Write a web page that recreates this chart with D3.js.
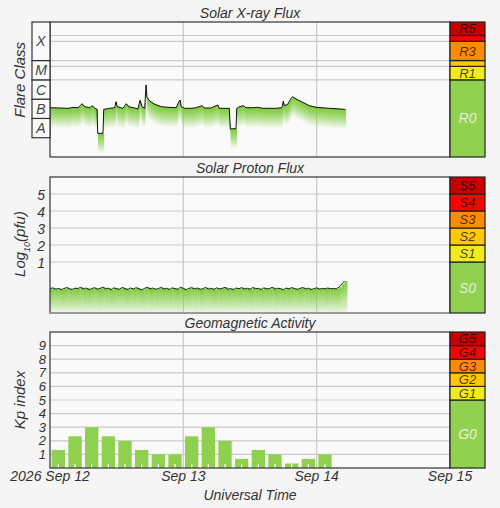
<!DOCTYPE html>
<html><head><meta charset="utf-8">
<script src="https://cdn.jsdelivr.net/npm/d3@7"></script>
<style>
html,body{margin:0;padding:0;background:#f5f5f5;}
svg{display:block;font-family:"Liberation Sans",Arial,sans-serif;font-style:italic;}
</style></head><body>
<svg id="c" width="500" height="508"></svg>
<script>
// ---------- DATA ----------
const startDate = "2026-09-12";
const tickLabels = ["2026 Sep 12", "Sep 13", "Sep 14", "Sep 15"];
const titles = ["Solar X-ray Flux", "Solar Proton Flux", "Geomagnetic Activity"];
const xAxisTitle = "Universal Time";

// X-ray flux (W/m^2) vs hours since start
const xrayHours = [0,1.44,3.24,4.14,5.04,5.45,5.76,6.25,7.15,7.61,8.05,8.46,8.59,9.54,9.67,10.75,11.65,11.88,12.11,13.14,13.73,14.17,15.25,15.84,16.2,16.56,17.05,17.28,17.46,17.95,18.85,20.03,21.24,22.73,23.04,23.4,23.63,24.25,25.43,26.28,27.36,27.77,28.98,30.19,30.47,32.27,32.45,33.48,33.61,33.97,34.79,35.28,36.49,37.39,38.29,40.68,41.76,41.99,42.17,42.79,43.38,43.69,44.28,45.49,46.67,47.88,50.27,51.48,52.97,53.15];
const xrayFlux = [3.6e-7,3.5e-7,3.35e-7,3.7e-7,3.6e-7,4.57e-7,5.81e-7,4.06e-7,3.6e-7,4.57e-7,3.35e-7,2.97e-7,1.69e-8,1.69e-8,2.97e-7,3.35e-7,3.6e-7,7.36e-7,4.06e-7,3.35e-7,5.81e-7,4.06e-7,3.47e-7,3.08e-7,8.7e-7,4.06e-7,3.35e-7,5.4e-6,1.25e-6,7.97e-7,5.4e-7,4.06e-7,3.78e-7,3.6e-7,6.08e-7,9.0e-7,4.06e-7,3.35e-7,3.35e-7,3.6e-7,4.57e-7,3.47e-7,3.47e-7,4.97e-7,3.35e-7,3.35e-7,2.83e-8,2.98e-8,3.35e-7,3.92e-7,4.57e-7,3.6e-7,3.6e-7,3.78e-7,3.35e-7,3.35e-7,3.6e-7,7.97e-7,4.57e-7,5.4e-7,1.1e-6,1.34e-6,1.02e-6,6.86e-7,4.57e-7,3.78e-7,3.35e-7,3.19e-7,2.97e-7,2.97e-7];

// Proton flux log10(pfu), one value every 0.5 h
const protonStepHours = 0.5;
const protonLog = [
-0.57,-0.52,-0.60,-0.55,-0.63,-0.56,-0.50,-0.58,-0.61,-0.54,
-0.56,-0.49,-0.59,-0.53,-0.62,-0.57,-0.51,-0.60,-0.55,-0.48,
-0.58,-0.54,-0.63,-0.52,-0.57,-0.60,-0.50,-0.56,-0.62,-0.53,
-0.59,-0.51,-0.57,-0.64,-0.55,-0.49,-0.58,-0.53,-0.61,-0.56,
-0.50,-0.59,-0.54,-0.62,-0.52,-0.57,-0.60,-0.48,-0.56,-0.63,
-0.55,-0.51,-0.58,-0.53,-0.61,-0.57,-0.50,-0.59,-0.54,-0.62,
-0.52,-0.58,-0.55,-0.49,-0.60,-0.56,-0.63,-0.53,-0.57,-0.51,
-0.59,-0.54,-0.61,-0.50,-0.57,-0.55,-0.62,-0.52,-0.58,-0.56,
-0.49,-0.60,-0.54,-0.57,-0.63,-0.53,-0.58,-0.51,-0.56,-0.61,
-0.55,-0.50,-0.59,-0.54,-0.62,-0.57,-0.52,-0.60,-0.55,-0.58,
-0.53,-0.57,-0.56,-0.58,-0.48,-0.30,-0.12];

// Kp index, 3-hour intervals
const kpValues = [1.33,2.33,3,2.33,2,1.33,1,1, 2.33,3,2,0.67,1.33,1,0.33,0.67, 1];

// Flare classes (lower bound flux)
const flareClasses = ["A","B","C","M","X"];
const flareBounds = [1e-8,1e-7,1e-6,1e-5,1e-4,1e-2];
// Scale levels
const rLabels = ["R0","R1","R2","R3","R4","R5"];
const rBounds = [1e-9,1e-5,5e-5,1e-4,1e-3,2e-3,1e-2];
const sLabels = ["S0","S1","S2","S3","S4","S5"];
const sBounds = [-2,1,2,3,4,5,6];
const gLabels = ["G0","G1","G2","G3","G4","G5"];
const gBounds = [0,5,6,7,8,9,10];
const scaleColors = ["#92d050","#f2ea1c","#ffc800","#ff8c00","#ff0000","#c80000"];
const protonTicks = [1,2,3,4,5];
const kpTicks = [1,2,3,4,5,6,7,8,9];

// ---------- CHART ----------
const svg = d3.select("#c");
const t0 = new Date(startDate + "T00:00:00Z");
const hr = h => new Date(t0.getTime() + h * 3600e3);
const x = d3.scaleUtc().domain([t0, hr(72)]).range([50, 450]);
const SX0 = 450, SX1 = 485;

const panels = [
  {top:22, bottom:157, y:d3.scaleLog().domain([1e-9,1e-2]).range([157,22])},
  {top:177, bottom:313, y:d3.scaleLinear().domain([-2,6]).range([313,177])},
  {top:332, bottom:468, y:d3.scaleLinear().domain([0,10]).range([468,332])}
];

const defs = svg.append("defs");
function grad(id, stops){
  const g = defs.append("linearGradient").attr("id",id).attr("x1",0).attr("y1",0).attr("x2",0).attr("y2",1);
  stops.forEach(s=>g.append("stop").attr("offset",s[0]).attr("stop-color","#7dcb3a").attr("stop-opacity",s[1]));
}
grad("gx",[[0,1],[0.35,0.7],[1,0]]);
grad("gp",[[0,1],[0.5,0.55],[1,0.08]]);

const dayTicks = [hr(0),hr(24),hr(48),hr(72)];
const gridColor = "#c9c9c9";

panels.forEach((p,i)=>{
  const g = svg.append("g");
  g.append("rect").attr("x",50).attr("y",p.top).attr("width",400).attr("height",p.bottom-p.top).attr("fill","#fafafa");
  g.selectAll("line.v").data(dayTicks.slice(1,3)).join("line")
    .attr("x1",d=>x(d)).attr("x2",d=>x(d)).attr("y1",p.top).attr("y2",p.bottom)
    .attr("stroke",gridColor).attr("stroke-width",1.2);
  svg.append("text").attr("x",250).attr("y",p.top-4).attr("text-anchor","middle")
    .attr("font-size",14).attr("fill","#333").text(titles[i]);
  p.g = g;
});

// ---- Panel 1: X-ray ----
(function(){
  const p = panels[0], y = p.y, g = p.g;
  g.selectAll("line.h").data(rBounds.slice(1,6)).join("line")
    .attr("x1",50).attr("x2",450).attr("y1",d=>y(d)).attr("y2",d=>y(d))
    .attr("stroke",gridColor).attr("stroke-width",1.2);
  const bis = d3.bisector(d=>d).right;
  const xa = x(hr(xrayHours[0])), xb = x(hr(xrayHours[xrayHours.length-1]));
  const cols = [];
  for(let px = xa; px < xb; px += 1){
    const h = (x.invert(px) - t0)/3600e3;
    let k = Math.min(Math.max(bis(xrayHours,h)-1,0), xrayHours.length-2);
    const f = (h - xrayHours[k])/(xrayHours[k+1]-xrayHours[k]);
    const lv = Math.log10(xrayFlux[k]) + f*(Math.log10(xrayFlux[k+1])-Math.log10(xrayFlux[k]));
    cols.push({px, v:Math.pow(10,lv)});
  }
  g.selectAll("rect.f").data(cols).join("rect")
    .attr("x",d=>d.px).attr("width",1.1).attr("y",d=>y(d.v)).attr("height",20).attr("fill","url(#gx)");
  const line = d3.line().x((d,j)=>x(hr(xrayHours[j]))).y(d=>y(d));
  g.append("path").datum(xrayFlux).attr("d",line).attr("fill","none").attr("stroke","#111").attr("stroke-width",1);
  g.append("rect").attr("x",50).attr("y",p.top).attr("width",400).attr("height",p.bottom-p.top)
    .attr("fill","none").attr("stroke","#333").attr("stroke-width",1.2);
  const cb = svg.append("g");
  flareClasses.forEach((c,j)=>{
    const y0 = y(flareBounds[j+1]), y1 = y(flareBounds[j]);
    cb.append("rect").attr("x",32).attr("y",y0).attr("width",18).attr("height",y1-y0)
      .attr("fill","#fafafa").attr("stroke","#333").attr("stroke-width",1.2);
    cb.append("text").attr("x",41).attr("y",(y0+y1)/2).attr("dy","0.36em").attr("text-anchor","middle")
      .attr("font-size",14).attr("fill","#444").text(c);
  });
  svg.append("text").attr("transform",`translate(20,${(y(1e-8)+y(1e-2))/2}) rotate(-90)`)
    .attr("text-anchor","middle").attr("dy","0.36em").attr("font-size",15).attr("fill","#333").text("Flare Class");
  drawScale(y, rBounds, rLabels);
})();

// ---- Panel 2: Protons ----
(function(){
  const p = panels[1], y = p.y, g = p.g;
  g.selectAll("line.h").data(protonTicks).join("line")
    .attr("x1",50).attr("x2",450).attr("y1",d=>y(d)).attr("y2",d=>y(d))
    .attr("stroke",gridColor).attr("stroke-width",1.2);
  const dx = x(hr(protonStepHours)) - x(hr(0));
  g.selectAll("rect.f").data(protonLog).join("rect")
    .attr("x",(d,j)=>x(hr(j*protonStepHours))).attr("width",dx+0.2)
    .attr("y",d=>y(d)).attr("height",d=>p.bottom-y(d)).attr("fill","url(#gp)");
  const line = d3.line().x((d,j)=>x(hr(j*protonStepHours))).y(d=>y(d));
  g.append("path").datum(protonLog).attr("d",line).attr("fill","none").attr("stroke","#111").attr("stroke-width",0.9);
  g.append("rect").attr("x",50).attr("y",p.top).attr("width",400).attr("height",p.bottom-p.top)
    .attr("fill","none").attr("stroke","#333").attr("stroke-width",1.2);
  g.append("line").attr("x1",50).attr("x2",450).attr("y1",p.bottom).attr("y2",p.bottom).attr("stroke","#999").attr("stroke-width",2);
  svg.append("g").selectAll("text").data(protonTicks).join("text")
    .attr("x",45).attr("y",d=>y(d)).attr("dy","0.4em").attr("text-anchor","end")
    .attr("font-size",14).attr("fill","#333").text(d=>d);
  const t = svg.append("text").attr("transform",`translate(20,244) rotate(-90)`)
    .attr("text-anchor","middle").attr("dy","0.36em").attr("font-size",15).attr("fill","#333");
  t.append("tspan").text("Log");
  t.append("tspan").attr("font-size",9).attr("baseline-shift","sub").text("10");
  t.append("tspan").text("(pfu)");
  drawScale(y, sBounds, sLabels);
})();

// ---- Panel 3: Kp ----
(function(){
  const p = panels[2], y = p.y, g = p.g;
  g.selectAll("line.h").data(kpTicks).join("line")
    .attr("x1",50).attr("x2",450).attr("y1",d=>y(d)).attr("y2",d=>y(d))
    .attr("stroke",gridColor).attr("stroke-width",1.2);
  const bx = j => x(hr(j*3 + 0.3));
  const bw = x(hr(2.4)) - x(hr(0));
  g.selectAll("rect.b").data(kpValues).join("rect")
    .attr("x",(d,j)=>bx(j)).attr("width",bw).attr("y",d=>y(d)).attr("height",d=>y(0)-y(d))
    .attr("fill","#8fd14f");
  g.selectAll("line.m").data(kpValues).join("line")
    .attr("x1",(d,j)=>x(hr(j*3+1.5))).attr("x2",(d,j)=>x(hr(j*3+1.5)))
    .attr("y1",y(0)).attr("y2",y(0)-4).attr("stroke","#fff").attr("stroke-width",1.3);
  g.append("rect").attr("x",50).attr("y",p.top).attr("width",400).attr("height",p.bottom-p.top)
    .attr("fill","none").attr("stroke","#333").attr("stroke-width",1.2);
  svg.append("g").selectAll("text").data(kpTicks).join("text")
    .attr("x",46).attr("y",d=>y(d)).attr("dy","0.36em").attr("text-anchor","end")
    .attr("font-size",13).attr("fill","#333").text(d=>d);
  svg.append("text").attr("transform",`translate(20,400) rotate(-90)`)
    .attr("text-anchor","middle").attr("dy","0.36em").attr("font-size",15).attr("fill","#333").text("Kp index");
  drawScale(y, gBounds, gLabels);
  svg.append("g").selectAll("text").data(dayTicks).join("text")
    .attr("x",d=>x(d)).attr("y",481).attr("text-anchor","middle")
    .attr("font-size",14).attr("fill","#333").text((d,j)=>tickLabels[j]);
  svg.append("text").attr("x",250).attr("y",500).attr("text-anchor","middle")
    .attr("font-size",14).attr("fill","#333").text(xAxisTitle);
})();

function drawScale(y, bounds, labels){
  const g = svg.append("g");
  labels.forEach((l,j)=>{
    const y0 = y(bounds[j+1]), y1 = y(bounds[j]);
    g.append("rect").attr("x",SX0).attr("y",y0).attr("width",SX1-SX0).attr("height",y1-y0)
      .attr("fill",scaleColors[j]).attr("stroke","#222").attr("stroke-width",1.2);
    if (y1 - y0 > 10) {
      g.append("text").attr("x",(SX0+SX1)/2).attr("y",(y0+y1)/2).attr("dy","0.36em")
        .attr("text-anchor","middle").attr("font-size",j===0?14:13)
        .attr("fill", j===0 ? "#e6eedd" : "rgba(0,0,0,0.72)").text(l);
    }
  });
}
</script>
</body></html>
